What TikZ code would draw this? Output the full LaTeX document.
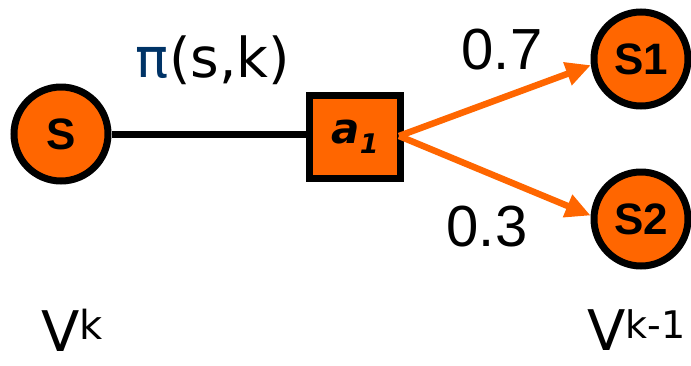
\documentclass[tikz,border=0pt]{standalone}
\usepackage{fontspec}
\setmainfont{Liberation Sans}
\newfontfamily\handfont{DejaVu Sans}
\usetikzlibrary{arrows.meta}
\definecolor{stateorange}{RGB}{255,102,0}
\definecolor{policyblue}{RGB}{0,51,102}

\begin{document}
\begin{tikzpicture}[x=1pt,y=-1pt,
    state/.style={circle,draw=black,fill=stateorange,line width=7pt,
      minimum size=94pt,inner sep=0pt,font=\fontsize{44}{44}\selectfont\bfseries},
    act/.style={rectangle,draw=black,fill=stateorange,line width=7pt,
      minimum width=91pt,minimum height=83pt,inner sep=0pt},
    trans/.style={draw=stateorange,line width=6.5pt,
      -{Triangle[length=25pt,width=23pt]}},
    prob/.style={font=\fontsize{58}{58}\selectfont},
    vlabel/.style={font=\handfont\fontsize{56}{56}\selectfont,inner sep=0pt}]
  \useasboundingbox (0,0) rectangle (691,365);
  % states and action
  \node[state] (s) at (61,134) {S};
  \node[state] (s1) at (641,59) {S1};
  \node[state] (s2) at (641,219) {S2};
  \node[act] (a1) at (355,137)
    {\handfont\bfseries\itshape\fontsize{42}{42}\selectfont a\raisebox{-10pt}{\fontsize{27}{27}\selectfont 1}};
  \coordinate (fork) at (399,136);
  % policy edge and transitions
  \draw[line width=7pt] (s.east) -- (s.east -| a1.west);
  \draw[trans] (fork) -- (s1.187);
  \draw[trans] (fork) -- (s2.176);
  % labels
  \node[font=\handfont\fontsize{55}{55}\selectfont] (pi) at (213,60)
    {\textcolor{policyblue}{π}(s,k)};
  \node[prob] (p1) at (502,50) {0.7};
  \node[prob] (p2) at (487,227) {0.3};
  \node[vlabel] (vk) at (72,330) {V\raisebox{12pt}{\fontsize{40}{40}\selectfont k}};
  \node[vlabel,anchor=base east] (vk1) at (686,350) {V\raisebox{12pt}{\fontsize{38}{38}\selectfont k-1}};
\end{tikzpicture}
\end{document}
